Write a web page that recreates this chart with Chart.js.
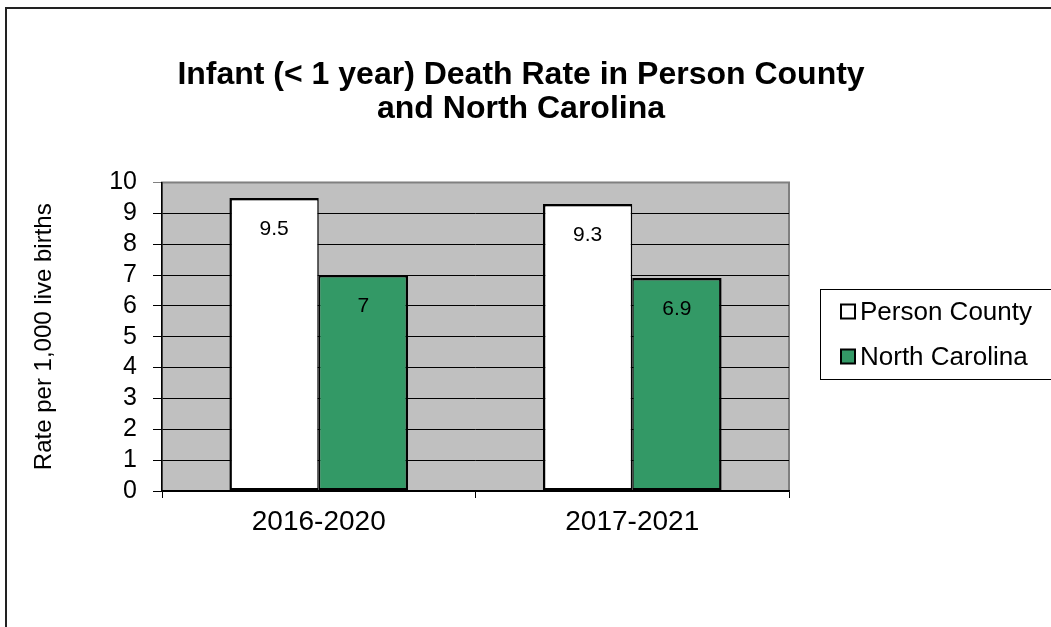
<!DOCTYPE html>
<html lang="en">
<head>
  <meta charset="UTF-8" />
  <title>Infant Death Rate</title>
  <script src="https://cdn.jsdelivr.net/npm/chart.js"></script>
  <style>
    body {
      margin: 0;
      padding: 0;
      background: #fff;
      overflow: hidden;
    }
    #chart-container {
      width: 1051px;
      height: 627px;
    }
  </style>
</head>
<body>
  <div id="chart-container">
    <canvas id="chart" width="1051" height="627"></canvas>
  </div>

  <script>
    const categories = ['2016-2020', '2017-2021'];
    const seriesNames = ['Person County', 'North Carolina'];
    const personCounty = [9.5, 9.3];
    const northCarolina = [7, 6.9];
    const yMin = 0;
    const yMax = 10;

    const FONT = "'Liberation Sans', Arial, sans-serif";
    Chart.defaults.font.family = FONT;
    Chart.defaults.color = '#000';

    // fondo gris del área de trazado + marco exterior
    const backdrop = {
      id: 'backdrop',
      beforeDraw(chart) {
        const { ctx, chartArea: a } = chart;
        ctx.save();
        ctx.strokeStyle = '#222';
        ctx.lineWidth = 2;
        ctx.strokeRect(6, 8, 2000, 2000);
        ctx.fillStyle = '#c0c0c0';
        ctx.fillRect(a.left, a.top, a.right - a.left, a.bottom - a.top);
        ctx.strokeStyle = '#808080';
        ctx.lineWidth = 2;
        ctx.strokeRect(a.left, a.top, a.right - a.left, a.bottom - a.top);
        ctx.restore();
      }
    };

    // etiquetas de valor dentro de las barras
    const barLabels = {
      id: 'barLabels',
      afterDatasetsDraw(chart) {
        const { ctx } = chart;
        ctx.save();
        ctx.font = '21px ' + FONT;
        ctx.fillStyle = '#000';
        ctx.textAlign = 'center';
        ctx.textBaseline = 'middle';
        chart.data.datasets.forEach((ds, i) => {
          chart.getDatasetMeta(i).data.forEach((bar, j) => {
            ctx.fillText(String(ds.data[j]), bar.x, bar.y + 31);
          });
        });
        ctx.restore();
      }
    };

    // leyenda con recuadro, como caja del layout a la derecha
    const boxLegend = {
      id: 'boxLegend',
      beforeInit(chart) {
        const box = {
          position: 'right',
          weight: 0,
          fullSize: false,
          options: {},
          width: 0,
          height: 0,
          isHorizontal() { return false; },
          update(maxWidth, maxHeight) {
            this.width = 233;
            this.height = maxHeight;
          },
          draw() {
            const ctx = chart.ctx;
            const cy = (this.top + this.bottom) / 2 - 3;
            const x0 = this.left + 31;
            const top = Math.round(cy - 45) + 0.5;
            ctx.save();
            ctx.strokeStyle = '#000';
            ctx.lineWidth = 1;
            ctx.strokeRect(x0 + 0.5, top, 400, 90);
            ctx.font = '26px ' + FONT;
            ctx.textBaseline = 'middle';
            ctx.textAlign = 'left';
            chart.data.datasets.forEach((ds, i) => {
              const y = top + 22 + i * 45;
              ctx.fillStyle = ds.backgroundColor;
              ctx.fillRect(x0 + 21, y - 7, 14, 14);
              ctx.lineWidth = 2;
              ctx.strokeRect(x0 + 21, y - 7, 14, 14);
              ctx.fillStyle = '#000';
              ctx.fillText(ds.label, x0 + 40, y + 1);
            });
            ctx.restore();
          }
        };
        Chart.layouts.addBox(chart, box);
      }
    };

    const chart = new Chart(document.getElementById('chart').getContext('2d'), {
      type: 'bar',
      data: {
        labels: categories,
        datasets: [
          {
            label: seriesNames[0],
            data: personCounty,
            backgroundColor: '#ffffff',
            borderColor: '#000',
            borderWidth: { top: 2.5, left: 2.5, bottom: 2.5, right: 1.5 },
            borderSkipped: false
          },
          {
            label: seriesNames[1],
            data: northCarolina,
            backgroundColor: '#339966',
            borderColor: '#000',
            borderWidth: { top: 2.5, left: 1.5, bottom: 2.5, right: 2.5 },
            borderSkipped: false
          }
        ]
      },
      options: {
        responsive: false,
        animation: false,
        layout: { padding: { left: 20, right: 29, top: 0, bottom: 0 } },
        datasets: {
          bar: { categoryPercentage: 0.57, barPercentage: 1.0 }
        },
        plugins: {
          legend: { display: false },
          tooltip: { enabled: false },
          title: {
            display: true,
            text: ['Infant (< 1 year) Death Rate in Person County', 'and North Carolina'],
            color: '#000',
            font: { size: 32, weight: 'bold', lineHeight: 1.07 },
            padding: { top: 58, bottom: 56 }
          }
        },
        scales: {
          x: {
            grid: {
              display: true,
              drawOnChartArea: false,
              tickLength: 7,
              color: '#000',
              offset: true
            },
            border: { color: '#000', width: 1.5 },
            ticks: { font: { size: 28 }, padding: 7, color: '#000' },
            afterFit(scale) { scale.height = 136; }
          },
          y: {
            min: yMin,
            max: yMax,
            ticks: { stepSize: 1, autoSkip: false, font: { size: 25 }, padding: 16, color: '#000' },
            grid: {
              tickLength: 9,
              color: (c) => (c.tick && c.tick.value === yMax ? '#808080' : '#000'),
              lineWidth: 1
            },
            border: { color: '#000', width: 1.5 },
            title: {
              display: true,
              text: 'Rate per 1,000 live births',
              font: { size: 24 },
              color: '#000',
              padding: { top: 10, bottom: 0 }
            },
            afterFit(scale) { scale.width = 142; }
          }
        }
      },
      plugins: [backdrop, barLabels, boxLegend]
    });
  </script>
</body>
</html>
